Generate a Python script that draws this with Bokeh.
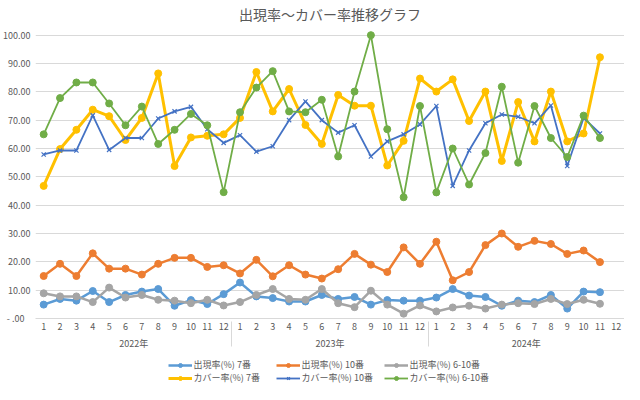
from bokeh.plotting import figure
from bokeh.layouts import column
from bokeh.models import FactorRange, Range1d, FixedTicker, Legend, LegendItem
from bokeh.embed import file_html
from bokeh.resources import INLINE

years = ["2022年", "2023年", "2024年"]
months = [str(m) for m in range(1, 13)]
tick_values = [0, 10, 20, 30, 40, 50, 60, 70, 80, 90, 100]
tick_labels = [" -   .00", "10.00", "20.00", "30.00", "40.00", "50.00",
               "60.00", "70.00", "80.00", "90.00", "100.00"]

appear_7 = [4.9, 6.9, 6.3, 9.7, 5.8, 8.3, 9.5, 10.4, 4.5, 6.5, 5.1, 8.6,
            12.7, 7.8, 7.2, 6.0, 6.0, 8.3, 6.9, 7.6, 4.9, 6.5, 6.3, 6.3,
            7.4, 10.4, 8.1, 7.6, 4.5, 6.3, 5.8, 8.3, 3.5, 9.5, 9.3]
appear_10 = [15.0, 19.3, 15.0, 23.0, 17.6, 17.6, 15.5, 19.3, 21.4, 21.4, 18.2, 18.8,
             15.9, 20.7, 14.9, 18.8, 15.5, 14.1, 17.4, 22.8, 19.0, 16.4, 25.1, 19.3,
             27.1, 13.5, 16.4, 25.9, 30.0, 25.3, 27.4, 26.3, 22.8, 24.0, 19.9]
appear_610 = [8.9, 7.8, 7.8, 5.8, 10.9, 7.4, 8.3, 6.6, 6.3, 5.4, 6.6, 4.6,
              5.8, 8.3, 10.4, 6.9, 6.6, 10.4, 5.4, 4.0, 9.8, 4.9, 1.7, 4.6,
              2.5, 3.9, 4.5, 3.5, 4.9, 5.4, 5.1, 6.9, 5.1, 6.6, 5.2]
cover_7 = [46.8, 59.8, 66.6, 73.7, 71.4, 63.0, 70.8, 86.5, 53.8, 63.9, 64.5, 65.0,
           70.8, 87.0, 73.1, 81.0, 68.3, 61.6, 78.9, 75.1, 75.1, 54.0, 62.7, 84.7,
           80.1, 84.4, 69.7, 80.1, 55.6, 76.4, 62.5, 80.1, 62.5, 65.3, 92.2]
cover_10 = [57.9, 59.3, 59.3, 71.7, 59.5, 63.7, 63.7, 70.6, 73.1, 74.7, 66.8, 62.0,
            64.7, 58.9, 60.8, 70.0, 76.6, 70.0, 65.6, 68.2, 57.2, 62.5, 65.0, 68.5,
            75.0, 46.8, 59.3, 68.9, 72.0, 71.2, 68.9, 75.2, 53.8, 70.8, 65.3]
cover_610 = [65.0, 77.8, 83.3, 83.3, 75.9, 68.2, 74.8, 61.6, 66.6, 72.2, 68.2, 44.6,
             72.8, 81.5, 87.3, 73.1, 72.8, 77.2, 57.2, 80.1, 100.0, 66.8, 42.8, 75.0,
             44.5, 60.0, 47.3, 58.4, 81.8, 55.0, 75.0, 63.7, 57.0, 71.6, 63.7]

series_names = ["出現率(%) 7番", "出現率(%) 10番", "出現率(%) 6-10番",
                "カバー率(%) 7番", "カバー率(%) 10番", "カバー率(%) 6-10番"]
series_values = [appear_7, appear_10, appear_610, cover_7, cover_10, cover_610]
series_colors = ["#5B9BD5", "#ED7D31", "#A5A5A5", "#FFC000", "#4472C4", "#70AD47"]
series_widths = [2.5, 2.5, 2.5, 3, 1.8, 1.8]
series_markers = ["circle", "circle", "circle", "circle", "x", "circle"]

FONT = "Noto Sans CJK JP"
NAN = float("nan")
factors = [(y, m) for y in years for m in months]

p = figure(x_range=FactorRange(*factors, factor_padding=0, group_padding=0, range_padding=0),
           y_range=Range1d(0, 102), width=624, height=352,
           output_backend="svg", toolbar_location=None,
           title="出現率〜カバー率推移グラフ")
p.title.text_font = FONT
p.title.text_font_size = "14px"
p.title.text_font_style = "normal"
p.title.text_color = "#595959"
p.title.align = "center"
p.title.vertical_align = "top"
p.title.standoff = 7
p.outline_line_color = None
p.min_border_left = 0
p.min_border_right = 0
p.min_border_top = 0
p.min_border_bottom = 0

p.ygrid.grid_line_color = "#d9d9d9"
p.xgrid.grid_line_color = None
p.yaxis.ticker = FixedTicker(ticks=tick_values)
p.yaxis.major_label_overrides = dict(zip(tick_values, tick_labels))
p.yaxis.axis_line_color = None
p.yaxis.major_tick_line_color = None
p.yaxis.minor_tick_line_color = None
p.yaxis.major_tick_out = 0
p.yaxis.major_tick_in = 0
p.yaxis.major_label_text_font = FONT
p.yaxis.major_label_text_font_size = "9px"
p.yaxis.major_label_text_color = "#595959"
p.yaxis.major_label_standoff = 5

xa = p.xaxis[0]
xa.axis_line_color = "#d9d9d9"
xa.major_tick_line_color = None
xa.major_tick_out = 0
xa.major_tick_in = 0
xa.major_label_text_font = FONT
xa.major_label_text_font_size = "9px"
xa.major_label_text_color = "#595959"
xa.group_text_font = FONT
xa.group_text_font_size = "9px"
xa.group_text_font_style = "normal"
xa.group_text_color = "#595959"
xa.separator_line_color = "#d9d9d9"
xa.separator_line_width = 1
xa.major_label_standoff = 4

# legend strip below the chart
lf = figure(width=624, height=32, output_backend="svg", toolbar_location=None,
            x_axis_type=None, y_axis_type=None, x_range=(0, 1), y_range=(0, 1))
lf.outline_line_color = None
lf.xgrid.grid_line_color = None
lf.ygrid.grid_line_color = None
lf.min_border_left = 0
lf.min_border_right = 0
lf.min_border_top = 0
lf.min_border_bottom = 0

items = []
for name, vals, col, lw, mk in zip(series_names, series_values, series_colors,
                                   series_widths, series_markers):
    xs = factors[:len(vals)]
    p.line(xs, vals, line_color=col, line_width=lw)
    if mk == "x":
        p.scatter(xs, vals, marker="x", size=6, line_color=col, line_width=1.2)
    else:
        p.scatter(xs, vals, marker="circle", size=7, fill_color=col, line_color=col)
    # legend key glyphs (a single undrawn NaN point) in the legend strip
    k1 = lf.line([NAN], [NAN], line_color=col, line_width=lw)
    if mk == "x":
        k2 = lf.scatter([NAN], [NAN], marker="x", size=6, line_color=col, line_width=1.2)
    else:
        k2 = lf.scatter([NAN], [NAN], marker="circle", size=7, fill_color=col, line_color=col)
    items.append(LegendItem(label=name, renderers=[k1, k2]))

legend = Legend(items=items, orientation="horizontal", ncols=3, location="bottom_center",
                border_line_color=None, background_fill_alpha=0,
                label_text_font=FONT, label_text_font_size="9px",
                label_text_color="#595959", glyph_width=24, glyph_height=10,
                spacing=0, padding=0, margin=0, label_standoff=2, label_height=10,
                label_width=82)
lf.add_layout(legend, "center")

layout = column(p, lf, spacing=0)
open("out.html", "w").write(file_html(layout, INLINE))
